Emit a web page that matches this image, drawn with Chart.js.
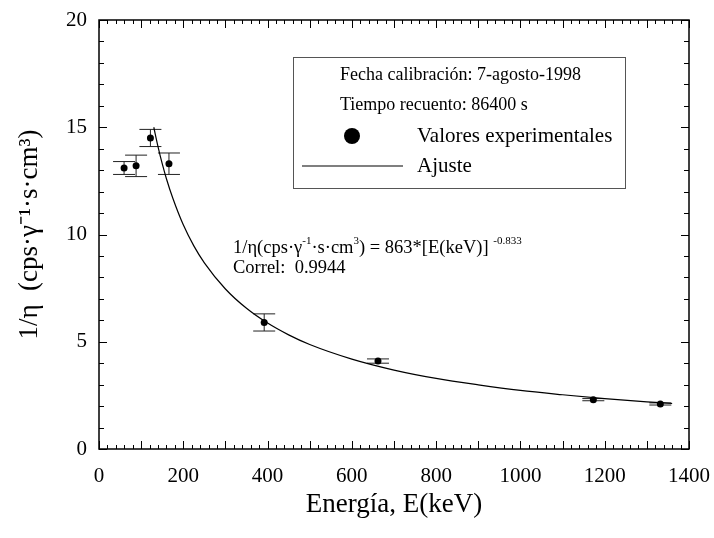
<!DOCTYPE html>
<html>
<head>
<meta charset="utf-8">
<script src="https://cdn.jsdelivr.net/npm/chart.js@4"></script>
<style>
  html, body { margin: 0; padding: 0; background: #fff; }
  #wrap { width: 714px; height: 538px; position: relative; }
</style>
</head>
<body>
<div id="wrap"><canvas id="chart"></canvas></div>
<script>
// Experimental points (keV, 1/eta) with vertical error
const energies = [59.5, 88, 122, 166, 392, 662, 1173, 1332];
const invEff = [13.1, 13.2, 14.5, 13.3, 5.9, 4.1, 2.3, 2.1];
const invEffErr = [0.3, 0.5, 0.4, 0.5, 0.4, 0.1, 0.05, 0.05];

// Fit curve
const fitEnergies = [130, 140, 150, 160, 175, 200, 225, 250, 300, 350, 400, 450, 500, 600, 700, 800, 900, 1000, 1100, 1200, 1300, 1360];
const fitValues = [15.0, 14.1, 13.3, 12.6, 11.7, 10.45, 9.47, 8.68, 7.46, 6.56, 5.87, 5.32, 4.87, 4.19, 3.68, 3.29, 2.99, 2.73, 2.53, 2.35, 2.20, 2.12];

const xTicks = [0, 200, 400, 600, 800, 1000, 1200, 1400];
const yTicks = [0, 5, 10, 15, 20];

const SERIF = "'Liberation Serif', 'Times New Roman', serif";

// error bars under the points
const errorBars = {
    id: 'errorBars',
    beforeDatasetsDraw(chart) {
        const { ctx, scales: { x, y } } = chart;
        ctx.save();
        ctx.strokeStyle = '#222';
        ctx.lineWidth = 1;
        energies.forEach((e, i) => {
            const px = x.getPixelForValue(e);
            const top = y.getPixelForValue(invEff[i] + invEffErr[i]);
            const bot = y.getPixelForValue(invEff[i] - invEffErr[i]);
            ctx.beginPath();
            ctx.moveTo(px, top); ctx.lineTo(px, bot);
            ctx.moveTo(px - 11, top); ctx.lineTo(px + 11, top);
            ctx.moveTo(px - 11, bot); ctx.lineTo(px + 11, bot);
            ctx.stroke();
        });
        ctx.restore();
    }
};

// text with superscript pieces: [[text, sup], ...]
function drawRich(ctx, parts, x, y, size) {
    parts.forEach(([t, sup]) => {
        ctx.font = (sup ? Math.round(size * 0.62) : size) + 'px ' + SERIF;
        ctx.fillText(t, x, sup ? y - size * 0.38 : y);
        x += ctx.measureText(t).width;
    });
}

// box frame, inward ticks, legend box and fit annotation
const decorations = {
    id: 'decorations',
    afterDraw(chart) {
        const { ctx, chartArea: a, scales: { x, y } } = chart;
        ctx.save();
        ctx.strokeStyle = '#000';
        ctx.lineWidth = 1;
        ctx.beginPath();
        for (let v = x.min; v <= x.max; v += 20) {
            const px = Math.round(x.getPixelForValue(v)) + 0.5;
            const len = v % 100 === 0 ? 8 : 4;
            ctx.moveTo(px, a.bottom); ctx.lineTo(px, a.bottom - len);
            ctx.moveTo(px, a.top); ctx.lineTo(px, a.top + len);
        }
        for (let v = y.min; v <= y.max; v += 1) {
            const py = Math.round(y.getPixelForValue(v)) + 0.5;
            const len = v % 5 === 0 ? 8 : 5;
            ctx.moveTo(a.left, py); ctx.lineTo(a.left + len, py);
            ctx.moveTo(a.right, py); ctx.lineTo(a.right - len, py);
        }
        ctx.stroke();
        ctx.lineWidth = 1.5;
        ctx.strokeRect(a.left, a.top, a.width, a.height);

        // legend box
        ctx.lineWidth = 1;
        ctx.strokeStyle = '#555';
        ctx.strokeRect(293.5, 57.5, 332, 131);
        ctx.fillStyle = '#000';
        ctx.textBaseline = 'middle';
        ctx.textAlign = 'left';
        ctx.font = '18px ' + SERIF;
        ctx.fillText('Fecha calibración: 7-agosto-1998', 340, 75);
        ctx.fillText('Tiempo recuento: 86400 s', 340, 105);
        ctx.beginPath();
        ctx.arc(352, 136, 8, 0, Math.PI * 2);
        ctx.fill();
        ctx.font = '21px ' + SERIF;
        ctx.fillText('Valores experimentales', 417, 136);
        ctx.fillText('Ajuste', 417, 166);
        ctx.strokeStyle = '#000';
        ctx.lineWidth = 1.2;
        ctx.beginPath();
        ctx.moveTo(302, 166); ctx.lineTo(403, 166);
        ctx.stroke();

        // fit equation
        drawRich(ctx, [
            ['1/η(cps·γ', false], ['-1', true], ['·s·cm', false], ['3', true],
            [') = 863*[E(keV)] ', false], ['-0.833', true]
        ], 233, 248, 18.5);
        ctx.font = '18.5px ' + SERIF;
        ctx.fillText('Correl:  0.9944', 233, 268);
        ctx.restore();
    }
};

new Chart(document.getElementById('chart'), {
    type: 'scatter',
    data: {
        datasets: [{
            data: energies.map((e, i) => ({ x: e, y: invEff[i] })),
            pointRadius: 3.5,
            pointBackgroundColor: '#000',
            pointBorderWidth: 0
        }, {
            data: fitEnergies.map((e, i) => ({ x: e, y: fitValues[i] })),
            showLine: true,
            borderColor: '#000',
            borderWidth: 1.2,
            pointRadius: 0,
            cubicInterpolationMode: 'monotone'
        }]
    },
    options: {
        responsive: true,
        maintainAspectRatio: false,
        animation: false,
        layout: { padding: { left: 0, right: 25, top: 20, bottom: 0 } },
        plugins: { legend: { display: false }, tooltip: { enabled: false } },
        scales: {
            x: {
                type: 'linear', min: 0, max: 1400,
                afterBuildTicks: s => { s.ticks = xTicks.map(v => ({ value: v })); },
                afterFit: s => { s.height = 89; s.paddingLeft = 0; s.paddingRight = 0; },
                grid: { display: false, drawTicks: false },
                border: { display: false },
                ticks: {
                    color: '#000', padding: 15, maxRotation: 0,
                    font: { family: SERIF, size: 21 },
                    callback: v => String(v)
                },
                title: {
                    display: true, text: 'Energía, E(keV)', color: '#000',
                    font: { family: SERIF, size: 27 }, padding: { top: 0, bottom: 17 }
                }
            },
            y: {
                type: 'linear', min: 0, max: 20,
                afterBuildTicks: s => { s.ticks = yTicks.map(v => ({ value: v })); },
                afterFit: s => { s.width = 99; s.paddingTop = 0; s.paddingBottom = 0; },
                grid: { display: false, drawTicks: false },
                border: { display: false },
                ticks: {
                    color: '#000', padding: 12,
                    font: { family: SERIF, size: 21 },
                    callback: v => String(v)
                },
                title: {
                    display: true, text: '1/η  (cps·γ⁻¹·s·cm³)', color: '#000',
                    font: { family: SERIF, size: 27 }, padding: { top: 14, bottom: 0 }
                }
            }
        }
    },
    plugins: [errorBars, decorations]
});
</script>
</body>
</html>
